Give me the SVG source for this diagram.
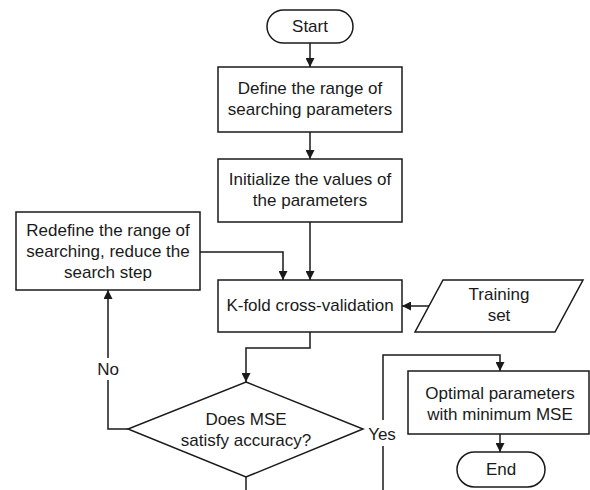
<svg xmlns="http://www.w3.org/2000/svg" width="590" height="490" viewBox="0 0 590 490">
<style>
.s{fill:#fff;stroke:#1a1a1a;stroke-width:1.5}
.c{fill:none;stroke:#1a1a1a;stroke-width:1.5}
text{font-family:"Liberation Sans",Arial,sans-serif;font-size:17px;fill:#1a1a1a;text-anchor:middle}
</style>
<defs>
<marker id="ah" viewBox="0 0 10 10" refX="10" refY="5" markerWidth="9" markerHeight="9" markerUnits="userSpaceOnUse" orient="auto">
<path d="M0,0 L10,5 L0,10 Z" fill="#1a1a1a"/>
</marker>
</defs>
<g id="connectors">
<path class="c" d="M310,43 V67" marker-end="url(#ah)"/>
<path class="c" d="M310,132 V159" marker-end="url(#ah)"/>
<path class="c" d="M310,222 V280" marker-end="url(#ah)"/>
<path class="c" d="M200,252 H283 V280" marker-end="url(#ah)"/>
<path class="c" d="M429,306 H402" marker-end="url(#ah)"/>
<path class="c" d="M310,332 V348 H246 V382" marker-end="url(#ah)"/>
<path class="c" d="M128,429 H108 V290" marker-end="url(#ah)"/>
<path class="c" d="M246,477 V490"/>
<path class="c" d="M383,490 V355 H500 V371" marker-end="url(#ah)"/>
<path class="c" d="M500,434 V452" marker-end="url(#ah)"/>
<rect x="94" y="358" width="28" height="22" fill="#fff"/>
<text x="108" y="375">No</text>
<rect x="366" y="420" width="32" height="26" fill="#fff"/>
<text x="382" y="440">Yes</text>
</g>
<g id="start">
<rect class="s" x="267" y="10" width="86" height="33" rx="16.5"/>
<text x="310" y="32">Start</text>
</g>
<g id="define">
<rect class="s" x="218" y="67" width="184" height="65"/>
<text x="310" y="94">Define the range of</text>
<text x="310" y="115">searching parameters</text>
</g>
<g id="init">
<rect class="s" x="218" y="159" width="184" height="63"/>
<text x="310" y="185">Initialize the values of</text>
<text x="310" y="206">the parameters</text>
</g>
<g id="redefine">
<rect class="s" x="16" y="212" width="184" height="78"/>
<text x="108" y="236">Redefine the range of</text>
<text x="108" y="257">searching, reduce the</text>
<text x="108" y="278">search step</text>
</g>
<g id="kfold">
<rect class="s" x="218" y="280" width="184" height="52"/>
<text x="310" y="311">K-fold cross-validation</text>
</g>
<g id="training">
<polygon class="s" points="443,280 583,280 555,332 415,332"/>
<text x="499" y="300">Training</text>
<text x="499" y="321">set</text>
</g>
<g id="decision">
<polygon class="s" points="246,382 363,429 246,477 128,429"/>
<text x="246" y="425">Does MSE</text>
<text x="246" y="446">satisfy accuracy?</text>
</g>
<g id="optimal">
<rect class="s" x="408" y="371" width="181" height="63"/>
<text x="500" y="399">Optimal parameters</text>
<text x="500" y="420">with minimum MSE</text>
</g>
<g id="end">
<rect class="s" x="457" y="452" width="88" height="35" rx="17.5"/>
<text x="501" y="475">End</text>
</g>
</svg>
